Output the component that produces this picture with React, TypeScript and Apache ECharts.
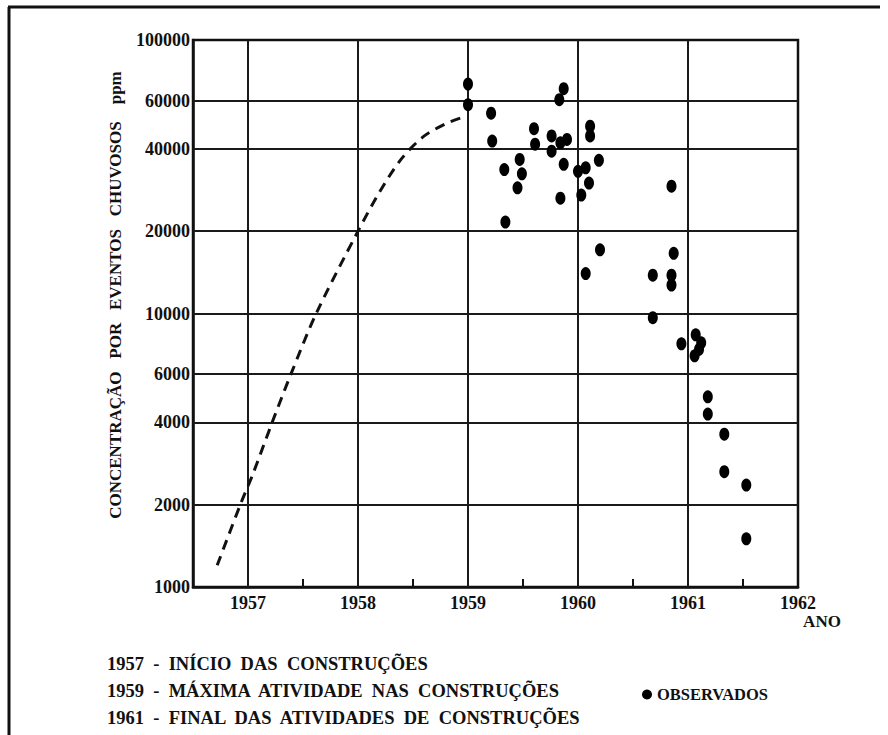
import React, { useEffect, useRef } from "react";
import * as echarts from "echarts";

// Observed values (year, ppm)
const obsYear = [
  1959.0, 1959.0,
  1959.21, 1959.22,
  1959.33, 1959.34,
  1959.47, 1959.49, 1959.45,
  1959.6, 1959.61,
  1959.76, 1959.76,
  1959.83, 1959.84, 1959.84,
  1959.87, 1959.87,
  1959.9,
  1960.0, 1960.03, 1960.07, 1960.07, 1960.1,
  1960.11, 1960.11,
  1960.19, 1960.2,
  1960.85, 1960.87, 1960.68, 1960.85, 1960.85, 1960.68,
  1960.94, 1961.07, 1961.12, 1961.1, 1961.06,
  1961.18, 1961.18, 1961.33, 1961.33, 1961.53, 1961.53,
];
const obsConc = [
  69000, 58000,
  54000, 42700,
  33600, 21600,
  36600, 32400, 28800,
  47400, 41600,
  44600, 39200,
  60500, 42100, 26400,
  66400, 35100,
  43300,
  33100, 27100, 34100, 14000, 30000,
  48400, 44600,
  36300, 17100,
  29200, 16600, 13800, 13800, 12700, 9650,
  7750, 8360, 7810, 7390, 7000,
  4960, 4290, 3620, 2640, 2360, 1500,
];

// Dashed trend curve
const curveYear = [1956.72, 1956.93, 1957.04, 1957.22, 1957.39, 1957.62, 1958.0, 1958.2, 1958.4, 1958.6, 1958.8, 1958.93];
const curveConc = [1200, 2000, 2560, 4000, 6000, 10000, 20000, 28000, 37000, 44500, 49500, 51800];

// Axis ticks
const yTicks = [1000, 2000, 4000, 6000, 10000, 20000, 40000, 60000, 100000];
const xYears = [1957, 1958, 1959, 1960, 1961, 1962];
const xGridYears = [1957, 1958, 1959, 1960, 1961];

const footerLines = [
  "1957  -  INÍCIO  DAS  CONSTRUÇÕES",
  "1959  -  MÁXIMA  ATIVIDADE  NAS  CONSTRUÇÕES",
  "1961  -  FINAL  DAS  ATIVIDADES  DE  CONSTRUÇÕES",
];

const SERIF = '"Liberation Serif", "Times New Roman", serif';
const INK = "#111";

export default function App() {
  const ref = useRef<HTMLDivElement>(null);

  useEffect(() => {
    if (!ref.current) return;
    const chart = echarts.init(ref.current, undefined, { renderer: "svg" });

    const scatterData = obsYear.map((x, i) => [x, obsConc[i]]);
    const curveData = curveYear.map((x, i) => [x, curveConc[i]]);

    const gridLineStyle = { color: "#1a1a1a", width: 2, type: "solid" as const };

    const markData: any[] = [
      ...xGridYears.map((y) => ({ xAxis: y, label: { show: false }, lineStyle: gridLineStyle })),
      ...yTicks.map((v) => ({
        yAxis: v,
        lineStyle: v === 1000 || v === 100000 ? { ...gridLineStyle, width: 0 } : gridLineStyle,
        label: {
          show: true,
          position: "start",
          distance: 3,
          formatter: String(v),
          color: INK,
          fontFamily: SERIF,
          fontWeight: "bold",
          fontSize: 18,
        },
      })),
    ];

    chart.setOption({
      animation: false,
      backgroundColor: "#fff",
      grid: {
        left: 193,
        top: 40,
        right: 90,
        bottom: 148,
        show: true,
        borderColor: INK,
        borderWidth: 2.5,
        backgroundColor: "transparent",
      },
      legend: {
        data: ["OBSERVADOS"],
        left: 637,
        top: 681,
        icon: "circle",
        itemWidth: 10,
        itemHeight: 13,
        textStyle: { fontFamily: SERIF, fontWeight: "bold", fontSize: 16.5, color: INK },
        selectedMode: false,
      },
      xAxis: {
        type: "value",
        min: 1956.5,
        max: 1962,
        interval: 0.5,
        axisLine: { show: true, onZero: false, lineStyle: { color: INK, width: 2.5 } },
        axisTick: { show: true, inside: true, length: 8, lineStyle: { color: INK, width: 2 } },
        splitLine: { show: false },
        axisLabel: {
          show: true,
          margin: 7,
          hideOverlap: false,
          showMinLabel: true,
          showMaxLabel: true,
          formatter: (v: number) => (xYears.indexOf(v) >= 0 ? String(v) : ""),
          color: INK,
          fontFamily: SERIF,
          fontWeight: "bold",
          fontSize: 18,
        },
      },
      yAxis: {
        type: "log",
        logBase: 10,
        min: 1000,
        max: 100000,
        axisLine: { show: true, lineStyle: { color: INK, width: 2.5 } },
        axisTick: { show: false },
        splitLine: { show: false },
        axisLabel: { show: false },
      },
      series: [
        {
          name: "curve",
          type: "line",
          data: curveData,
          smooth: 0.3,
          showSymbol: false,
          symbol: "none",
          lineStyle: { color: INK, width: 3, type: [10, 7] },
          silent: true,
          z: 3,
        },
        {
          name: "OBSERVADOS",
          type: "scatter",
          data: scatterData,
          symbol: "circle",
          symbolSize: [10, 13],
          itemStyle: { color: "#000", opacity: 1 },
          z: 4,
          markLine: {
            silent: true,
            symbol: ["none", "none"],
            animation: false,
            data: markData,
            z: 1,
          },
        },
      ],
      graphic: [
        { type: "line", shape: { x1: 8, y1: 7, x2: 880, y2: 7 }, style: { stroke: INK, lineWidth: 3 } },
        { type: "line", shape: { x1: 9, y1: 7, x2: 9, y2: 735 }, style: { stroke: INK, lineWidth: 3 } },
        {
          type: "text",
          x: 115,
          y: 295,
          rotation: Math.PI / 2,
          style: {
            text: "CONCENTRAÇÃO   POR   EVENTOS   CHUVOSOS    ppm",
            font: `bold 17px ${SERIF}`,
            fill: INK,
            textAlign: "center",
            textVerticalAlign: "middle",
          },
        },
        {
          type: "text",
          x: 822,
          y: 621,
          style: {
            text: "ANO",
            font: `bold 17px ${SERIF}`,
            fill: INK,
            textAlign: "center",
            textVerticalAlign: "middle",
          },
        },
        ...footerLines.map((t, i) => ({
          type: "text",
          x: 107,
          y: 664 + i * 27,
          style: {
            text: t,
            font: `bold 18.5px ${SERIF}`,
            fill: INK,
            textAlign: "left",
            textVerticalAlign: "middle",
          },
        })),
      ],
    });

    return () => chart.dispose();
  }, []);

  return (
    <div
      ref={ref}
      style={{ position: "fixed", left: 0, top: 0, width: 888, height: 735, background: "#fff" }}
    />
  );
}
